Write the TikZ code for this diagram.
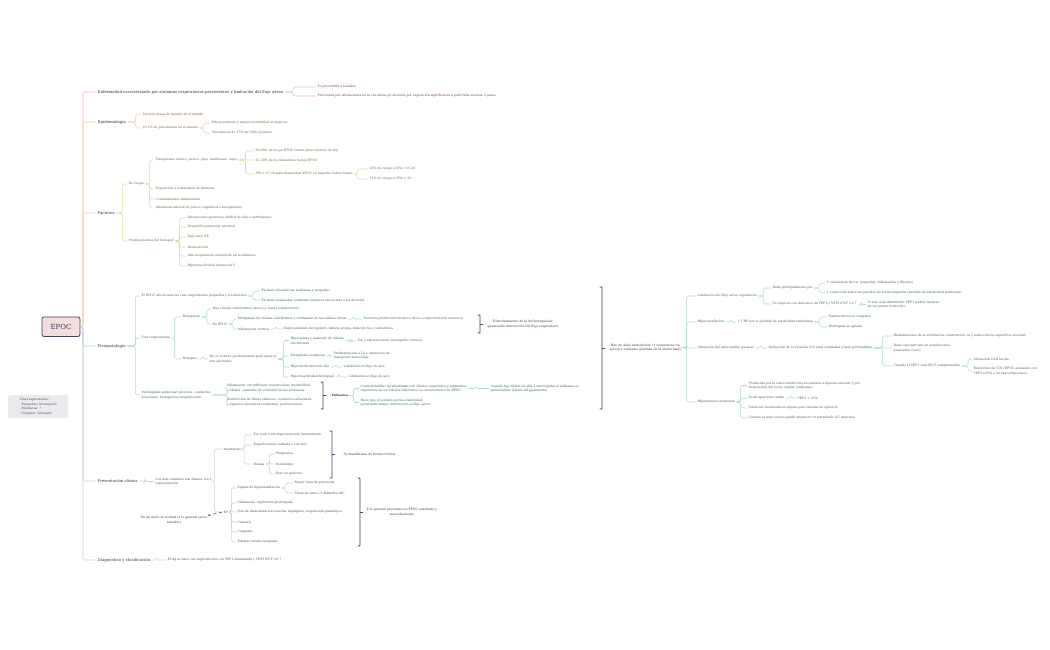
\documentclass[tikz,border=0pt]{standalone}
\usepackage{fontspec}
\usetikzlibrary{arrows.meta}
\setmainfont{DejaVu Serif}
\newfontfamily\symf{DejaVu Sans}
\newcommand\up{{\symf ↑}}
\newcommand\down{{\symf ↓}}
\newcommand\fsL{\fontsize{3.15}{4.7}\selectfont}
\newcommand\fsM{\fontsize{3.9}{4.7}\selectfont}
\definecolor{cEnf}{HTML}{F0BFAE}
\definecolor{tEnf}{HTML}{7D3B32}
\definecolor{cEpi}{HTML}{F2CFA3}
\definecolor{tEpi}{HTML}{7A5733}
\definecolor{cFac}{HTML}{DCDDA2}
\definecolor{tFac}{HTML}{5E6838}
\definecolor{cFis}{HTML}{A8DDCB}
\definecolor{tFis}{HTML}{3E6157}
\definecolor{cPre}{HTML}{D2CBE0}
\definecolor{tPre}{HTML}{4C4B68}
\definecolor{cBrk}{HTML}{4A4262}
\definecolor{tBrk}{HTML}{3D3558}
\definecolor{tMain}{HTML}{333333}
\definecolor{rootfill}{HTML}{F3DDDD}
\definecolor{notefill}{HTML}{EBEBEF}
\newcommand\mylk[4]{\draw[cn=#1] (#3.east) -- ++(#2,0) |- (#4.west);}
\newcommand\mybrak[3]{\draw[brk] ({#1-2.5},#2) -- (#1,#2) -- (#1,#3) -- ({#1-2.5},#3); \draw[brk] (#1,{(#2+#3)/2}) -- ({#1+2.5},{(#2+#3)/2});}
\begin{document}
\begin{tikzpicture}[x=1pt,y=-1pt,
  cn/.style={draw=#1, line width=0.55pt, rounded corners=1.8pt},
  main/.style={anchor=west, inner xsep=1.5pt, inner ysep=0.5pt, font=\fsM, text=tMain},
  leaf/.style={anchor=west, inner xsep=1.5pt, inner ysep=0.5pt, font=\fsL, text=#1, align=left},
  summ/.style={anchor=west, inner sep=0.5pt, font=\fsL, text=tBrk, align=center},
  brk/.style={draw=cBrk, line width=0.9pt, rounded corners=0.8pt},
  ]
\useasboundingbox[fill=white] (0,0) rectangle (1050,650);

% root and note
\node[draw=cBrk, fill=rootfill, line width=0.8pt, rounded corners=2pt, minimum width=38pt, minimum height=19.5pt, inner sep=0pt, font=\fontsize{7}{8}\selectfont, text=tBrk] (root) at (61,326.7) {EPOC};
\node[anchor=north west, fill=notefill, rounded corners=2pt, inner xsep=3pt, inner ysep=2pt, font=\fsL, text=tPre, align=left, minimum width=60pt, minimum height=23pt] (note) at (8,395) {Vías respiratorias:\\- Pequeñas: bronquiolo\\- Medianas: ?\\- Grandes: bronquio};

% main branches
\node[main] (enf) at (96,92) {Enfermedad caracterizada por síntomas respiratorios persistentes y limitación del flujo aéreo};
\node[main] (epi) at (96,122) {Epidemiología};
\node[main] (fac) at (96,213) {Factores};
\node[main] (fis) at (96,346) {Fisiopatología};
\node[main] (pre) at (96,481) {Presentación clínica};
\node[main] (dg) at (96,560) {Diagnóstico y clasificación};

\draw[cn=cEnf] (root.east) -- (83,326.7) |- (enf.west);
\draw[cn=cEpi] (root.east) -- (83,326.7) |- (epi.west);
\draw[cn=cFac] (root.east) -- (83,326.7) |- (fac.west);
\draw[cn=cPre] (root.east) -- (83,326.7) |- (dg.west);
\draw[cn=cPre] (root.east) -- (83,326.7) |- (pre.west);
\draw[cn=cFis] (root.east) -- (83,326.7) |- (fis.west);

% Enfermedad
\node[leaf=tEnf] (enf1) at (316,87) {Es prevenible y tratable};
\node[leaf=tEnf] (enf2) at (316,96) {Provocada por alteraciones en la vía aérea y/o alvéolos por exposición significativa a partículas nocivas o gases};
\mylk{cEnf}{8}{enf}{enf1}
\mylk{cEnf}{8}{enf}{enf2}

% Epidemiologia
\node[leaf=tEpi] (epi1) at (141,114) {Tercera causa de muerte en el mundo};
\node[leaf=tEpi] (epi2) at (141,128) {10.1\% de prevalencia en el mundo};
\node[leaf=tEpi] (epi3) at (210,123) {Más prevalente y mayor mortalidad en mujeres};
\node[leaf=tEpi] (epi4) at (210,133) {Prevalencia de 17\% en Chile (platino)};
\mylk{cEpi}{8}{epi}{epi1}
\mylk{cEpi}{8}{epi}{epi2}
\mylk{cEpi}{4}{epi2}{epi3}
\mylk{cEpi}{4}{epi2}{epi4}

% Factores
\node[leaf=tFac] (dr) at (127,184) {De riesgo};
\node[leaf=tFac] (pd) at (127,241) {Predisponentes del huésped};
\mylk{cFac}{6}{fac}{dr}
\mylk{cFac}{6}{fac}{pd}
\node[leaf=tFac] (tab) at (154,160) {Tabaquismo (activo, pasivo, pipa, marihuana, vape)};
\node[leaf=tFac] (bio) at (154,189) {Exposición a combustión de biomasa};
\node[leaf=tFac] (con) at (154,199) {Contaminantes ambientales};
\node[leaf=tFac] (inh) at (154,208) {Inhalación laboral de polvos (orgánicos e inorgánicos)};
\foreach \c in {tab,bio,con,inh}{\mylk{cFac}{4}{dr}{\c}}
\node[leaf=tFac] (t1) at (254,151) {80-90\% de los px EPOC tienen antecedentes de tbq};
\node[leaf=tFac] (t2) at (254,160) {15-20\% de los fumadores tienen EPOC};
\node[leaf=tFac] (t3) at (254,174) {IPA > 15-20 para desarrollar EPOC (sí importa cuánto fuma)};
\foreach \c in {t1,t2,t3}{\mylk{cFac}{6}{tab}{\c}}
\node[leaf=tFac] (i1) at (368,169) {26\% de riesgo si IPA <15-30};
\node[leaf=tFac] (i2) at (368,179) {51\% de riesgo si IPA > 30};
\mylk{cFac}{3}{t3}{i1}
\mylk{cFac}{3}{t3}{i2}
\node[leaf=tFac] (p1) at (186,218) {Alteraciones genéticas (déficit de alfa-1 antitripsina)};
\node[leaf=tFac] (p2) at (186,227) {Desarrollo pulmonar anormal};
\node[leaf=tFac] (p3) at (186,237) {Bajo nivel SE};
\node[leaf=tFac] (p4) at (186,247) {Desnutrición};
\node[leaf=tFac] (p5) at (186,256) {Infx respiratoria (sobretodo en la infancia)};
\node[leaf=tFac] (p6) at (186,266) {Hiperreactividad (bronquial?)};
\foreach \c in {p1,p2,p3,p4,p5,p6}{\mylk{cFac}{4}{pd}{\c}}

% Fisiopatologia
\node[leaf=tFis] (f1) at (140,296) {El EPOC afecta más las vías respiratorias pequeñas y los alvéolos};
\node[leaf=tFis] (f2) at (140,338) {Vías respiratorias};
\node[leaf=tFis] (f3) at (140,395) {Parénquima pulmonar (alvéolos, conductos\\alveolares, bronquíolos respiratorios)};
\foreach \c in {f1,f2}{\mylk{cFis}{8}{fis}{\c}}
\mylk{cFis}{8}{fis}{f3}
\node[leaf=tFis] (f1a) at (260,291) {En fases iniciales las medianas y pequeñas};
\node[leaf=tFis] (f1b) at (260,300) {En fases avanzadas (enfisema extenso) afecta más a los alvéolos};
\mylk{cFis}{5}{f1}{f1a}
\mylk{cFis}{5}{f1}{f1b}
\node[leaf=tFis] (bq) at (181,317) {Bronquiolo};
\node[leaf=tFis] (br) at (181,359) {Bronquio};
\mylk{cFis}{3}{f2}{bq}
\mylk{cFis}{3}{f2}{br}
\node[leaf=tFis] (bq1) at (211,309) {Hay células caliciformes (moco) y claras (surfactante)};
\node[leaf=tFis] (bq2) at (211,324) {En EPOC};
\mylk{cFis}{5}{bq}{bq1}
\mylk{cFis}{5}{bq}{bq2}
\node[leaf=tFis] (e1) at (236,319) {Metaplasia de células caliciformes y reemplazo de las células claras};
\node[leaf=tFis] (e2) at (236,329) {Inflamación crónica};
\mylk{cFis}{4}{bq2}{e1}
\mylk{cFis}{4}{bq2}{e2}
\node[leaf=tFis] (e1a) at (362,319) {Excesiva producción de moco (lleva a expectoración excesiva)};
\node[leaf=tFis] (e2a) at (282,329) {Engrosamiento del epitelio, lámina propia, músculo liso y adventicia};
\mylk{cFis}{5}{e1}{e1a}
\mylk{cFis}{5}{e2}{e2a}
\mybrak{480}{315}{333}
\node[summ] (est) at (487,324) {Estrechamiento de la luz bronquiolar,\\generando obstrucción del flujo respiratorio};

\node[leaf=tFis] (brn) at (208,359) {No es el daño predominante pero igual se\\ven afectados};
\mylk{cFis}{4}{br}{brn}
\node[leaf=tFis] (h1) at (289,340.5) {Hiperplasia y aumento de células\\ciliciformes};
\node[leaf=tFis] (h2) at (289,356) {Metaplasia escamosa};
\node[leaf=tFis] (h3) at (289,367) {Hipertrofia músculo liso};
\node[leaf=tFis] (h4) at (289,377) {Hiperreactividad bronquial};
\foreach \c in {h1,h2,h3,h4}{\mylk{cFis}{5}{brn}{\c}}
\node[leaf=tFis] (h1a) at (356,341) {Tos y expectoración (bronquitis crónica)};
\node[leaf=tFis] (h2a) at (332,355.5) {Predisposición a Ca y alteración de\\transporte mucociliar};
\node[leaf=tFis] (h3a) at (342,367) {Limitación al flujo de aire};
\node[leaf=tFis] (h4a) at (347,377) {Limitación al flujo de aire};
\mylk{cFis}{5}{h1}{h1a}
\mylk{cFis}{3}{h2}{h2a}
\mylk{cFis}{5}{h3}{h3a}
\mylk{cFis}{3}{h4}{h4a}

\node[leaf=tFis] (pq1) at (225,388) {Inflamación con infiltrado mononuclear (neutrófilos)\\y edema - aumento de actividad de las proteasas};
\node[leaf=tFis] (pq2) at (225,402) {Destrucción de fibras elásticas, conductos alveolares\\y espacios alveolares (enfisema), perforaciones};
\mylk{cFis}{15}{f3}{pq1}
\mylk{cFis}{15}{f3}{pq2}
\mybrak{323}{382}{409}
\node[summ, font=\fsL\bfseries] (enfi) at (331,395.5) {Enfisema};
\node[leaf=tFis] (en1) at (359,388.5) {Centrolobulillar (predominante en lóbulos superiores y segmentos\\superiores de los lóbulos inferiores) es característico de EPOC};
\node[leaf=tFis] (en2) at (359,402.5) {Hace que el pulmón pierda elasticidad,\\generando mayor obstrucción al flujo aéreo};
\mylk{cFis}{5}{enfi}{en1}
\mylk{cFis}{5}{enfi}{en2}
\node[leaf=tFis] (en1a) at (489,388.5) {Cuando hay déficit de alfa-1 antitripsina el enfisema es\\panlobulillar (lóbulo inf ppalmente)};
\mylk{cFis}{8}{en1}{en1a}

% big summary
\mybrak{602}{287}{409}
\node[summ] (hd) at (609,347.5) {Hay un daño bronquiolar (\up\ resistencia vía\\aérea) y enfisema (pérdida de la elasticidad)};
\node[leaf=tFis] (l1) at (696,296) {Limitación del flujo aéreo espiratorio};
\node[leaf=tFis] (l2) at (696,322) {Hiperinsuflación};
\node[leaf=tFis] (l3) at (696,348) {Alteración del intercambio gaseoso};
\node[leaf=tFis] (l4) at (696,402) {Hipertensión pulmonar};
\foreach \c in {l1,l2,l3,l4}{\mylk{cFis}{5}{hd}{\c}}
\node[leaf=tFis] (l1a) at (771,288) {Dado principalmente por};
\node[leaf=tFis] (l1b) at (771,304) {Se objetiva con descenso de VEF1 y VEF1/CVF <0,7};
\mylk{cFis}{5}{l1}{l1a}
\mylk{cFis}{5}{l1}{l1b}
\node[leaf=tFis] (d1) at (825,283) {\up\ resistencia de v.a. pequeñas (inflamación y fibrosis)};
\node[leaf=tFis] (d2) at (825,293) {\down\ retracción sobre las paredes de los bronquiolos (pérdida de elasticidad pulmonar)};
\mylk{cFis}{5}{l1a}{d1}
\mylk{cFis}{5}{l1a}{d2}
\node[leaf=tFis] (l1c) at (866,304.5) {Si solo está disminuido VEF1 podría tratarse\\de un patrón restrictivo};
\mylk{cFis}{3}{l1b}{l1c}
\node[leaf=tFis] (l2a) at (736,322) {\up\ CRF por la pérdida de elasticidad (enfisema)};
\mylk{cFis}{5}{l2}{l2a}
\node[leaf=tFis] (s1) at (827,317) {Espiración no se completa};
\node[leaf=tFis] (s2) at (827,327) {Diafragma se aplana};
\mylk{cFis}{5}{l2a}{s1}
\mylk{cFis}{5}{l2a}{s2}
\node[leaf=tFis] (l3a) at (767,348) {Reducción de la relación V/Q (mal ventilados y bien perfundidos)};
\mylk{cFis}{5}{l3}{l3a}
\node[leaf=tFis] (a1) at (892,336) {Disminuciones de la ventilación (obstrucción va y reducción de superficie alveolar)};
\node[leaf=tFis] (a2) at (892,348) {Daño vascular aun en estadios más\\avanzados (raro)};
\node[leaf=tFis] (a3) at (892,366) {Cuando el VEF1 está MUY comprometido};
\foreach \c in {a1,a2,a3}{\mylk{cFis}{8}{l3a}{\c}}
\node[leaf=tFis] (g1) at (972,359) {Alteración GSA tardía};
\node[leaf=tFis] (g2) at (972,371) {Retención de CO2 (EPOC avanzado con\\VEF1<25\% o en exacerbaciones)};
\mylk{cFis}{6}{a3}{g1}
\mylk{cFis}{6}{a3}{g2}
\node[leaf=tFis] (hp1) at (747,385.5) {Producida por la vasoconstricción secundaria a hipoxia alveolar y por\\destrucción del lecho capilar (enfisema)};
\node[leaf=tFis] (hp2) at (747,398) {Es de aparición tardía};
\node[leaf=tFis] (hp3) at (747,408) {Suele ser moderada en reposo pero intensa en ejercicio};
\node[leaf=tFis] (hp4) at (747,418) {Cuando es muy severa puede producir cor pulmonale (IC derecha)};
\foreach \c in {hp1,hp2,hp3,hp4}{\mylk{cFis}{4}{l4}{\c}}
\node[leaf=tFis] (hp2a) at (796,398) {VEF1 < 25\%};
\mylk{cFis}{5}{hp2}{hp2a}

% Presentacion clinica
\node[leaf=tPre] (pre1) at (154,481.5) {Los más comunes son disnea, tos y\\expectoración};
\mylk{cPre}{5}{pre}{pre1}
\node[leaf=tPre] (an) at (222,449) {Anamnesis};
\node[leaf=tPre] (ef) at (222,512) {EF};
\mylk{cPre}{1.5}{pre1}{an}
\mylk{cPre}{1.5}{pre1}{ef}
\node[leaf=tPre] (an1) at (252,435) {Tos (con o sin expectoración) intermitente};
\node[leaf=tPre] (an2) at (252,445) {Expectoración (aislada o con tos)};
\node[leaf=tPre] (an3) at (252,464) {Disnea};
\foreach \c in {an1,an2,an3}{\mylk{cPre}{1.5}{an}{\c}}
\node[leaf=tPre] (dn1) at (274,454) {Progresiva};
\node[leaf=tPre] (dn2) at (274,464) {Persistente};
\node[leaf=tPre] (dn3) at (274,474) {Peor en ejercicio};
\foreach \c in {dn1,dn2,dn3}{\mylk{cPre}{3}{an3}{\c}}
\mybrak{332}{431}{478}
\node[summ] (cron) at (343,454.5) {Se manifiestan de forma crónica};
\node[leaf=tPre] (ef1) at (236,488) {Signos de hiperinsuflación};
\node[leaf=tPre] (ef2) at (236,503) {Sibilancias, espiración prolongada};
\node[leaf=tPre] (ef3) at (236,512) {Uso de musculatura accesoria, taquipnea, respiración paradójica};
\node[leaf=tPre] (ef4) at (236,522) {Cianosis};
\node[leaf=tPre] (ef5) at (236,532) {Caquexia};
\node[leaf=tPre] (ef6) at (236,542) {Edema cintura escapular};
\foreach \c in {ef1,ef2,ef3,ef4,ef5,ef6}{\mylk{cPre}{1.5}{ef}{\c}}
\node[leaf=tPre] (ef1a) at (293,483) {Mayor área de percusión};
\node[leaf=tPre] (ef1b) at (293,493) {Tórax en tonel (\up\ diámetro AP)};
\mylk{cPre}{4}{ef1}{ef1a}
\mylk{cPre}{4}{ef1}{ef1b}
\mybrak{360}{478}{546}
\node[summ] (avz) at (366,512) {X lo general presentes en EPOC avanzado y\\exacerbaciones};
\node[summ, anchor=north east] (ini) at (208,515.5) {En un inicio es normal (x lo general (poco\\sensible)};
\draw[draw=cBrk, line width=0.6pt, dashed, -{Stealth[length=2.2pt,width=2pt]}] (ef.west) -- (ini.north east);

% Diagnostico
\node[leaf=tPre] (dg1) at (166,560) {El dg se hace con espirometría con VEF1 disminuido y VEF1/CVF <0,7};
\mylk{cPre}{5}{dg}{dg1}
\end{tikzpicture}
\end{document}
